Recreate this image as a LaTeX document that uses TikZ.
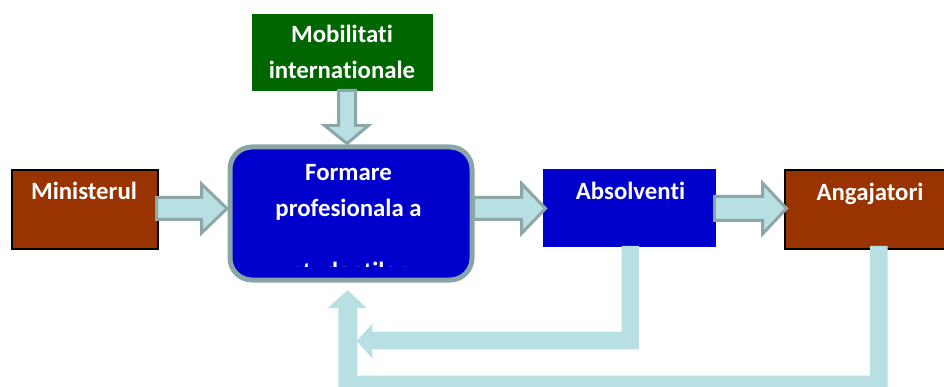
\documentclass[tikz,border=0pt]{standalone}
\usepackage{fontspec}
\setmainfont[RawFeature={-liga;-dlig;-clig}]{Carlito}
\definecolor{brownbox}{HTML}{993300}
\definecolor{bluebox}{HTML}{0000CC}
\definecolor{greenbox}{HTML}{006600}
\definecolor{arrowfill}{HTML}{B8DFE2}
\definecolor{arrowline}{HTML}{8DA7A8}
\definecolor{frameline}{HTML}{8AA5A7}
\newcommand\blockR[6]{\filldraw[blockarrow] (#1,#4-#5) -- (#2,#4-#5) -- (#2,#4-#6) -- (#3,#4) -- (#2,#4+#6) -- (#2,#4+#5) -- (#1,#4+#5) -- cycle;}
\begin{document}
\begin{tikzpicture}[x=1pt,y=-1pt,
  box/.style={inner sep=0pt, anchor=north west},
  lbl/.style={text=white, font=\bfseries\fontsize{24.8}{30}\selectfont, anchor=base, inner sep=0pt},
  blockarrow/.style={fill=arrowfill, draw=arrowline, line width=3pt, line join=miter},
  feedback/.style={fill=arrowfill, draw=none}]
\useasboundingbox (0,0) rectangle (944,387);
\clip (0,0) rectangle (944,387);
% boxes
\node[box, fill=brownbox, draw=black, line width=2pt, minimum width=146pt, minimum height=79pt] (min) at (11,169) {};
\node[box, fill=brownbox, draw=black, line width=2pt, minimum width=180pt, minimum height=79pt] (ang) at (784,169) {};
\node[box, fill=bluebox, minimum width=173pt, minimum height=78pt] (abs) at (543,169) {};
\node[box, fill=greenbox, minimum width=181pt, minimum height=77pt] (mob) at (252,14) {};
\node[box, fill=bluebox, draw=frameline, line width=5pt, rounded corners=22pt, minimum width=242pt, minimum height=133pt] (form) at (227.5,144.5) {};
% texts
\node[lbl] (tmin) at (84,199.3) {Ministerul};
\node[lbl] (tabs) at (630.5,200) {Absolventi};
\node[lbl] (tang) at (870,200.7) {Angajatori};
\node[lbl] (tmob1) at (342,43) {Mobilitati};
\node[lbl] (tmob2) at (342,79) {internationale};
\node[lbl] (tform1) at (348.5,180.7) {Formare};
\node[lbl] (tform2) at (348.5,217) {profesionala a};
\begin{scope}
  \clip (228,146) rectangle (469,266);
  \node[lbl] (tform3) at (350,279.5) {studentilor};
\end{scope}
% block arrows
\blockR{156.5}{201.5}{227}{208.5}{11}{24.5}
\blockR{473.5}{521.5}{545.5}{208.5}{11}{25}
\blockR{714.5}{762.5}{786.5}{208.5}{12}{25.5}
\filldraw[blockarrow] (338.5,90.5) -- (355.5,90.5) -- (355.5,125.5) -- (368.5,125.5) -- (347,143.5) -- (324.5,125.5) -- (338.5,125.5) -- cycle;
% feedback arrows
\fill[feedback] (621.7,246) -- (639,246) -- (639,349.3) -- (372.3,349.3) -- (372.3,358.3) -- (356.7,341) -- (372.3,324) -- (372.3,331.7) -- (621.7,331.7) -- cycle;
\fill[feedback] (870,246) -- (887.7,246) -- (887.7,395) -- (338.3,395) -- (338.3,308) -- (328,308) -- (347.5,290) -- (366.7,308) -- (357.3,308) -- (357.3,375.7) -- (870,375.7) -- cycle;
\end{tikzpicture}
\end{document}
